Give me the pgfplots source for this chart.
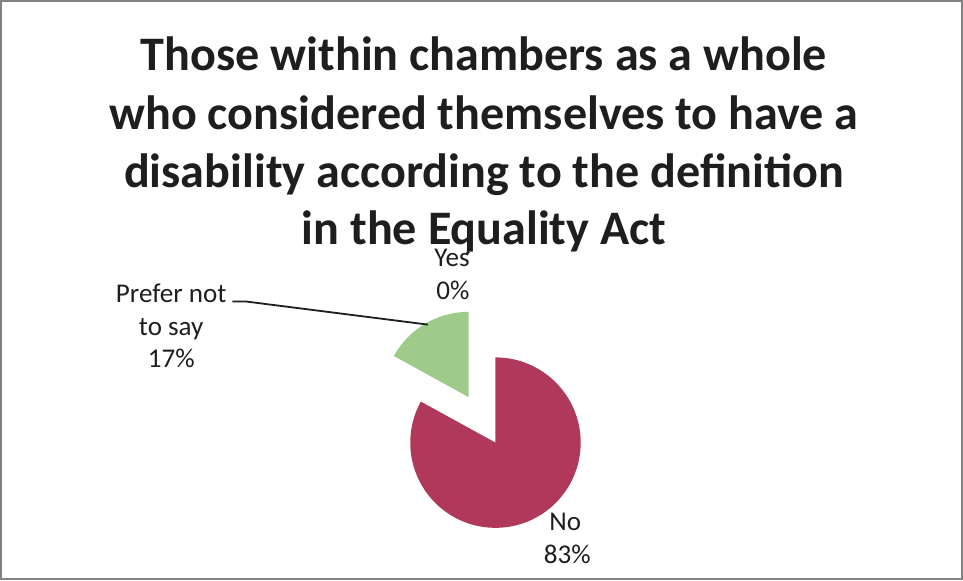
\documentclass[border=0pt]{standalone}
\usepackage{pgfplots}
\pgfplotsset{compat=1.18}
\usepackage{fontspec}
\setmainfont{Carlito}

\definecolor{slicered}{RGB}{176,56,90}
\definecolor{slicegreen}{RGB}{158,202,138}
\definecolor{framegray}{RGB}{130,130,130}
\definecolor{ink}{RGB}{30,30,30}

% shares in percent, slices run clockwise from 12 o'clock
\def\shareYes{0}
\def\shareNo{83}
\def\sharePrefer{17}
\def\pieR{42.5pt}
\def\explode{13.2pt}

\begin{document}
\begin{tikzpicture}
\pgfmathsetmacro{\aA}{90-3.6*\shareYes}
\pgfmathsetmacro{\aB}{\aA-3.6*\shareNo}
\pgfmathsetmacro{\aC}{\aB-3.6*\sharePrefer}
\pgfmathsetmacro{\midNo}{(\aA+\aB)/2}
\pgfmathsetmacro{\midPr}{(\aB+\aC)/2}
\begin{axis}[
  scale only axis, width=481.5pt, height=290.5pt,
  xmin=0, xmax=963, ymin=0, ymax=581,
  hide axis, clip=false]
  % outer frame
  \draw[framegray, line width=0.8pt] (axis cs:2,2) rectangle (axis cs:961,579);
  % exploded slices
  \fill[slicered] ([shift={(\midNo:\explode)}]axis cs:482,161)
     -- ++(\aA:\pieR) arc[start angle=\aA, end angle=\aB, radius=\pieR] -- cycle;
  \fill[slicegreen] ([shift={(\midPr:\explode)}]axis cs:482,161)
     -- ++(\aB:\pieR) arc[start angle=\aB, end angle=\aC, radius=\pieR] -- cycle;
  % title
  \begin{scope}[every node/.style={anchor=base, text=ink, font=\fontsize{24}{29}\selectfont\bfseries}]
    \node at (axis cs:484,509) {Those within chambers as a whole};
    \node at (axis cs:484,451) {who considered themselves to have a};
    \node at (axis cs:484,393) {disability according to the definition};
    \node at (axis cs:484,336) {in the Equality Act};
  \end{scope}
  % data labels
  \begin{scope}[every node/.style={anchor=base, text=ink, font=\fontsize{13.5}{16}\selectfont}]
    \node at (axis cs:452,314) {Yes};
    \node at (axis cs:453,281) {\shareYes\%};
    \node at (axis cs:172,278) {Prefer not};
    \node at (axis cs:172,245) {to say};
    \node at (axis cs:172,213) {\sharePrefer\%};
    \node at (axis cs:565,51) {No};
    \node at (axis cs:567,18) {\shareNo\%};
  \end{scope}
  % leader lines
  \draw[ink, line width=0.9pt] (axis cs:233,279) -- (axis cs:247,279) -- (axis cs:428,256);
  \draw[ink, line width=1.2pt] (axis cs:467,327) -- (axis cs:469,329);
\end{axis}
\end{tikzpicture}
\end{document}
